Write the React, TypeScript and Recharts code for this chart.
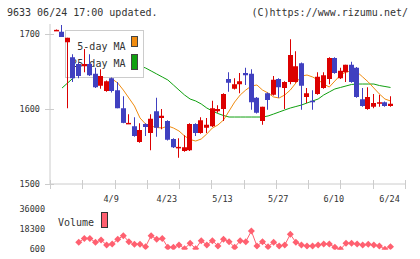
import React from 'react';
import { ComposedChart, Bar, Line, XAxis, YAxis } from 'recharts';

// ---- data (index k = trading day) ----
const opens = [1705, 1703, 1689, 1669, 1660, 1657, 1660, 1647, 1631, 1624, 1641, 1625, 1601, 1581, 1577, 1556, 1580, 1568, 1597, 1588, 1584, 1560, 1549, 1544, 1545, 1580, 1568, 1575, 1577, 1597, 1600, 1640, 1627, 1633, 1648, 1647, 1615, 1584, 1621, 1619, 1640, 1628, 1636, 1636, 1661, 1616, 1611, 1620, 1628, 1640, 1668, 1641, 1649, 1659, 1655, 1613, 1600, 1603, 1607, 1609, 1604];
const highs = [1706, 1712, 1695, 1673, 1662, 1680, 1673, 1655, 1653, 1638, 1642, 1636, 1617, 1593, 1589, 1581, 1581, 1593, 1615, 1600, 1585, 1561, 1561, 1565, 1581, 1581, 1589, 1588, 1611, 1605, 1621, 1649, 1641, 1648, 1655, 1653, 1616, 1603, 1622, 1644, 1641, 1637, 1693, 1677, 1662, 1628, 1625, 1649, 1649, 1669, 1669, 1655, 1659, 1663, 1656, 1628, 1629, 1620, 1619, 1610, 1617];
const lows = [1704, 1696, 1601, 1636, 1641, 1649, 1644, 1628, 1627, 1623, 1622, 1601, 1581, 1580, 1563, 1555, 1564, 1545, 1563, 1573, 1558, 1548, 1535, 1543, 1544, 1564, 1567, 1568, 1576, 1595, 1584, 1623, 1626, 1621, 1632, 1599, 1594, 1579, 1599, 1618, 1615, 1600, 1633, 1635, 1599, 1608, 1599, 1619, 1627, 1633, 1647, 1640, 1636, 1635, 1615, 1603, 1599, 1601, 1603, 1603, 1603];
const closes = [1705.5, 1696, 1695, 1641, 1644, 1660, 1645, 1629, 1644, 1637, 1624, 1601, 1581.5, 1581.5, 1564, 1572, 1576, 1587, 1575, 1591, 1559, 1549, 1549.5, 1549, 1580, 1568, 1585, 1579, 1601, 1600, 1620, 1635, 1633, 1637, 1645, 1609, 1595, 1603, 1612, 1639, 1629, 1636, 1672, 1657, 1631, 1621, 1609, 1643, 1645, 1668, 1648, 1651, 1659, 1636, 1616, 1604, 1616, 1608, 1609, 1604, 1607];
const ma5 = [null, null, null, null, null, null, null, null, null, 1644, 1640, 1634.7, 1625.3, 1614.7, 1604, 1588, 1580, 1577.3, 1575.3, 1574.7, 1577.3, 1574.7, 1570.7, 1564, 1559.3, 1557.3, 1560, 1566.7, 1574.7, 1578.7, 1585.3, 1597.3, 1609.3, 1618.7, 1625.3, 1630.7, 1632, 1625.3, 1621.3, 1616, 1614.7, 1618.7, 1625.3, 1634.7, 1644, 1645.3, 1642.7, 1638.7, 1633.3, 1629.3, 1637.3, 1645.3, 1649.3, 1650.7, 1649.3, 1642.7, 1636, 1628, 1620, 1613.3, 1610.7];
const ma25 = [null, 1628, 1634.7, 1641.3, 1646.7, 1650.7, 1654.7, 1657.3, 1658.7, 1660, 1661.3, 1661.3, 1661.3, 1660, 1658.7, 1657.3, 1654.7, 1650.7, 1646.7, 1642.7, 1638.7, 1632, 1625.3, 1618.7, 1613.3, 1610.7, 1606.7, 1601.3, 1597.3, 1594, 1591.3, 1589.3, 1589.3, 1589.3, 1589.3, 1589.3, 1589.3, 1589.3, 1590.7, 1593.3, 1596, 1598.7, 1601.3, 1603.3, 1605.3, 1608, 1610.7, 1613.3, 1618.7, 1622.7, 1626.7, 1628.7, 1630.7, 1632.7, 1633.3, 1633.3, 1633.3, 1633.3, 1631.3, 1630, 1628.7];
const volumes = [null, null, null, null, 6500, 10000, 10000, 6500, 8600, 4200, 5000, 9200, 12400, 7100, 4800, 4800, 2700, 12400, 9200, 10000, 2100, 2100, 4200, 900, 5600, 900, 8000, 4200, 8000, 3300, 9200, 7100, 2100, 8000, 7100, 16500, 3300, 7100, 2700, 6500, 3300, 4200, 13600, 6500, 4200, 3300, 3300, 4200, 5000, 5000, 2100, 300, 5600, 5600, 5000, 4200, 4800, 4200, 3300, 500, 2700];

const dateLabels = ['4/9', '4/23', '5/13', '5/27', '6/10', '6/24'];
const dateLabelIdx = [10, 20, 30, 40, 50, 60];
const priceTicks = [1500, 1600, 1700];
const volumeTicks = [600, 18300, 36000];

const data = opens.map((o, k) => ({
  k,
  open: o,
  high: highs[k],
  low: lows[k],
  close: closes[k],
  ma5: ma5[k],
  ma25: ma25[k],
  vol: volumes[k],
}));

// ---- layout / style ----
const K_MIN = -1.1677;
const K_MAX = 62.6;
const Y_MIN = 1500;
const Y_MAX = 1713.33;
const MARK_COUNT = 12;
const markTicks = Array.from({ length: MARK_COUNT }, (_, j) => K_MIN + (j * (K_MAX - K_MIN)) / (MARK_COUNT - 1));

const RED = '#dc0000';
const BLUE = '#4040c0';
const ORANGE = '#f08c10';
const GREEN = '#10a010';
const VOL = '#ff6070';
const AXIS = '#cccccc';
const TEXT = '#333333';
const FONT = '"DejaVu Sans Mono", monospace';

const W = 420;
const MAIN_H = 210;
const mainMargin = { top: 24, right: 15, bottom: 0, left: 0 };

function Candle(props: any) {
  const { x, y, width, height, payload } = props;
  if (!payload || x == null || y == null) return null;
  const { open, close, high, low } = payload;
  const color = close >= open ? RED : BLUE;
  const span = high - low;
  const per = span > 0 ? height / span : 0;
  const yOf = (v: number) => y + (high - v) * per;
  const cx = x + width / 2;
  const bx = Math.round(cx - 2.5);
  const top = yOf(Math.max(open, close));
  const bot = yOf(Math.min(open, close));
  const bh = Math.max(bot - top, 1.5);
  return (
    <g>
      <rect x={bx + 2} y={y} width={1} height={Math.max(height, 1)} fill={color} />
      <rect x={bx} y={top} width={5} height={bh} fill={color} />
    </g>
  );
}

function XTick(props: any) {
  const { x, y, payload } = props;
  const v = payload.value;
  const li = dateLabelIdx.indexOf(v);
  if (li >= 0) {
    return (
      <text x={x - 1} y={y + 18} textAnchor="middle" fontSize={8.5} fontFamily={FONT} fill={TEXT}>
        {dateLabels[li]}
      </text>
    );
  }
  const px = Math.round(x) + 0.5;
  return <line x1={px} x2={px} y1={y - 4} y2={y + 5} stroke={AXIS} strokeWidth={1} />;
}

function YTick(props: any) {
  const { x, y, payload } = props;
  const py = Math.round(y) + 0.5;
  return (
    <g>
      <line x1={x - 5} x2={x + 4} y1={py} y2={py} stroke={AXIS} strokeWidth={1} />
      <text x={x - 10} y={y + 3} textAnchor="end" fontSize={8.5} fontFamily={FONT} fill={TEXT}>
        {payload.value}
      </text>
    </g>
  );
}

function VTick(props: any) {
  const { x, y, payload } = props;
  return (
    <text x={x - 5} y={y + 3} textAnchor="end" fontSize={8.5} fontFamily={FONT} fill={TEXT}>
      {payload.value}
    </text>
  );
}

function Diamond(props: any) {
  const { cx, cy, value } = props;
  if (cx == null || cy == null || value == null || Number.isNaN(cy)) return null;
  const r = 3.5;
  return <polygon points={`${cx},${cy - r} ${cx + r},${cy} ${cx},${cy + r} ${cx - r},${cy}`} fill={VOL} />;
}

export default function App() {
  return (
    <div style={{ position: 'absolute', left: 0, top: 0, width: W, height: 259, background: '#fff', overflow: 'hidden' }}>
      {/* header */}
      <svg width={W} height={22} style={{ position: 'absolute', left: 0, top: 0 }}>
        <text x={7} y={16} fontSize={10} fontFamily={FONT} fill={TEXT}>9633 06/24 17:00 updated.</text>
        <text x={408} y={16} fontSize={10} fontFamily={FONT} fill={TEXT} textAnchor="end">(C)https://www.rizumu.net/</text>
      </svg>

      {/* layer 1: moving averages */}
      <div style={{ position: 'absolute', left: 0, top: 0 }}>
        <ComposedChart width={W} height={MAIN_H} data={data} margin={mainMargin}>
          <XAxis xAxisId="x" type="number" dataKey="k" domain={[K_MIN, K_MAX]} allowDataOverflow height={26} tick={false} tickLine={false} axisLine={false} />
          <YAxis yAxisId="y" type="number" domain={[Y_MIN, Y_MAX]} allowDataOverflow width={50} tick={false} tickLine={false} axisLine={false} />
          <Line xAxisId="x" yAxisId="y" type="linear" dataKey="ma25" stroke={GREEN} strokeWidth={1} dot={false} isAnimationActive={false} />
          <Line xAxisId="x" yAxisId="y" type="linear" dataKey="ma5" stroke={ORANGE} strokeWidth={1} dot={false} isAnimationActive={false} />
        </ComposedChart>
      </div>

      {/* layer 2: legend box */}
      <svg width={W} height={MAIN_H} style={{ position: 'absolute', left: 0, top: 0 }}>
        <rect x={65.5} y={30.5} width={78} height={47} fill="#ffffff" stroke="#cccccc" />
        <text x={125.5} y={50} textAnchor="end" fontSize={10} fontFamily={FONT} fill={TEXT}>5-day MA</text>
        <text x={125.5} y={67} textAnchor="end" fontSize={10} fontFamily={FONT} fill={TEXT}>25-day MA</text>
        <rect x={131.5} y={36.5} width={6} height={10} fill={ORANGE} stroke="#444" />
        <rect x={131.5} y={54.5} width={6} height={15} fill={GREEN} stroke="#444" />
      </svg>

      {/* layer 3: candles + axes */}
      <div style={{ position: 'absolute', left: 0, top: 0 }}>
        <ComposedChart width={W} height={MAIN_H} data={data} margin={mainMargin}>
          <XAxis
            xAxisId="x"
            type="number"
            dataKey="k"
            domain={[K_MIN, K_MAX]}
            allowDataOverflow
            height={26}
            ticks={[...markTicks, ...dateLabelIdx]}
            interval={0}
            tickSize={0}
            tickMargin={0}
            tickLine={false}
            tick={<XTick />}
            axisLine={{ stroke: AXIS }}
          />
          <YAxis
            yAxisId="y"
            type="number"
            domain={[Y_MIN, Y_MAX]}
            allowDataOverflow
            width={50}
            ticks={priceTicks}
            interval={0}
            tickSize={0}
            tickMargin={0}
            tickLine={false}
            tick={<YTick />}
            axisLine={{ stroke: AXIS }}
          />
          <Bar
            xAxisId="x"
            yAxisId="y"
            dataKey={(d: any) => [d.low, d.high]}
            barSize={5}
            shape={<Candle />}
            isAnimationActive={false}
          />
        </ComposedChart>
      </div>

      {/* volume chart */}
      <div style={{ position: 'absolute', left: 0, top: 200 }}>
        <ComposedChart width={W} height={59} data={data} margin={{ top: 9, right: 15, bottom: 9.3, left: 0 }}>
          <XAxis xAxisId="x" type="number" dataKey="k" domain={[K_MIN, K_MAX]} allowDataOverflow hide />
          <YAxis
            yAxisId="v"
            type="number"
            domain={[0, 36000]}
            allowDataOverflow
            width={50}
            ticks={volumeTicks}
            interval={0}
            tickSize={0}
            tickMargin={0}
            tickLine={false}
            axisLine={false}
            tick={<VTick />}
          />
          <Line
            xAxisId="x"
            yAxisId="v"
            type="linear"
            dataKey="vol"
            stroke={VOL}
            strokeWidth={1}
            dot={<Diamond />}
            isAnimationActive={false}
          />
        </ComposedChart>
      </div>

      {/* volume legend */}
      <svg width={W} height={59} style={{ position: 'absolute', left: 0, top: 200 }}>
        <text x={58} y={26} fontSize={10} fontFamily={FONT} fill={TEXT}>Volume</text>
        <rect x={101.5} y={12.5} width={6} height={15} fill={VOL} stroke="#333" />
      </svg>
    </div>
  );
}
